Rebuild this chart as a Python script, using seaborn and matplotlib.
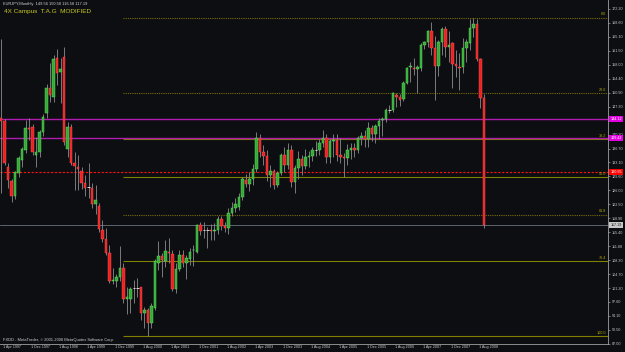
import numpy as np
import pandas as pd
import matplotlib
matplotlib.use("Agg")
import matplotlib.pyplot as plt
import matplotlib.transforms as mtransforms
import seaborn as sns

# ---------------- data (EURJPY monthly, Apr 1997 .. Oct 2008) ----------------
months = pd.period_range("1997-04", "2008-10", freq="M")

opens = [144.5, 143.7, 132.0, 128.4, 124.5, 130.5, 133.8, 136.3, 141.9, 142.2,
         135.0, 135.8, 140.9, 145.7, 152.1, 149.8, 159.7, 156.2, 160.0, 136.6,
         142.2, 133.0, 132.0, 131.0, 128.0, 126.9, 126.7, 122.5, 122.0, 115.9,
         113.7, 110.1, 103.0, 103.0, 104.0, 106.3, 98.4, 98.4, 101.2, 101.2,
         101.5, 94.8, 95.6, 92.3, 96.1, 107.6, 109.3, 108.1, 110.4, 109.9,
         101.0, 106.0, 109.6, 107.6, 108.5, 110.8, 110.4, 117.2, 115.9, 115.9,
         116.0, 115.8, 116.0, 118.8, 117.0, 116.5, 120.3, 121.6, 121.8, 124.4,
         128.6, 127.7, 128.9, 131.4, 139.4, 135.9, 134.8, 130.0, 131.0, 127.3,
         130.4, 135.0, 132.5, 136.3, 128.3, 131.8, 134.0, 132.2, 134.5, 134.8,
         136.2, 136.2, 138.0, 139.5, 134.5, 138.5, 138.8, 135.0, 134.6, 134.2,
         136.2, 136.8, 136.3, 139.5, 139.8, 139.2, 142.0, 140.5, 142.5, 143.9,
         144.2, 146.5, 146.5, 150.3, 149.9, 149.3, 153.4, 157.5, 157.3, 156.9,
         157.2, 163.0, 163.8, 166.6, 162.3, 157.7, 163.8, 167.1, 162.5, 163.5,
         158.2, 157.4, 157.4, 162.3, 163.5, 167.4, 168.4, 159.5, 149.56]

highs = [164.5, 144.3, 133.0, 129.0, 131.0, 134.8, 137.2, 144.0, 144.5, 143.0,
         139.6, 141.5, 145.5, 153.1, 158.5, 160.5, 162.0, 159.7, 162.5, 143.5,
         143.0, 135.8, 135.0, 132.0, 130.0, 133.0, 128.0, 127.5, 122.8, 118.5,
         116.5, 112.1, 106.3, 104.8, 112.0, 107.5, 101.5, 101.5, 103.2, 103.8,
         101.5, 96.4, 96.0, 97.5, 108.5, 113.2, 110.1, 113.4, 113.9, 111.0,
         107.6, 111.0, 110.9, 109.5, 111.5, 112.1, 117.5, 118.0, 118.0, 116.7,
         117.5, 117.7, 119.5, 119.5, 118.0, 121.6, 123.0, 124.0, 125.5, 129.5,
         130.2, 130.8, 132.8, 140.9, 140.5, 137.5, 136.2, 132.6, 131.5, 131.0,
         135.5, 137.0, 138.0, 137.5, 132.5, 136.0, 135.0, 136.5, 136.0, 137.0,
         138.6, 139.0, 141.5, 140.5, 139.0, 140.5, 140.5, 139.5, 135.5, 137.8,
         138.0, 138.0, 140.0, 141.0, 141.5, 143.5, 142.8, 143.0, 144.5, 144.8,
         147.0, 147.8, 151.0, 150.7, 150.5, 153.8, 157.5, 158.8, 159.7, 158.0,
         163.5, 164.0, 166.9, 168.9, 165.3, 164.2, 167.7, 168.0, 166.7, 163.9,
         161.8, 160.9, 164.9, 164.5, 169.6, 169.96, 169.6, 159.7, 150.58]

lows = [125.5, 132.5, 126.7, 123.0, 123.8, 129.5, 132.0, 135.5, 138.9, 135.0,
        132.0, 134.5, 139.8, 144.5, 148.5, 148.5, 152.9, 148.3, 137.5, 134.5,
        132.5, 126.1, 126.1, 126.5, 124.5, 124.0, 121.5, 120.0, 115.5, 113.0,
        109.5, 102.5, 102.2, 101.5, 103.0, 97.5, 94.5, 94.8, 97.5, 98.9,
        93.0, 91.0, 88.97, 91.0, 95.5, 105.8, 104.0, 106.6, 107.6, 100.5,
        100.0, 105.5, 106.6, 103.5, 107.0, 106.8, 110.0, 114.8, 113.9, 111.4,
        113.5, 113.4, 115.0, 116.0, 115.5, 115.0, 119.5, 120.5, 121.0, 123.5,
        126.9, 126.0, 127.5, 130.8, 134.5, 132.5, 128.5, 126.9, 126.5, 126.8,
        129.9, 130.8, 131.5, 127.0, 125.5, 129.0, 129.9, 131.5, 132.0, 133.5,
        134.8, 135.0, 137.0, 133.0, 133.0, 134.5, 133.5, 133.0, 129.5, 132.5,
        134.0, 134.5, 135.5, 137.5, 137.0, 137.0, 138.5, 138.0, 139.0, 140.0,
        143.5, 145.7, 146.0, 147.3, 147.5, 148.8, 153.0, 153.7, 155.4, 150.7,
        156.5, 162.0, 162.5, 160.5, 149.0, 155.1, 160.5, 160.0, 158.8, 152.0,
        155.0, 151.6, 155.8, 158.8, 161.8, 165.2, 159.0, 147.0, 116.58]

closes = [143.6, 133.0, 128.7, 124.5, 130.7, 134.3, 136.6, 141.9, 141.7, 135.8,
          135.8, 140.9, 144.7, 152.1, 150.3, 159.5, 155.9, 156.9, 138.4, 142.2,
          133.0, 132.2, 131.5, 128.0, 126.7, 126.8, 122.5, 123.5, 116.2, 113.7,
          110.1, 103.0, 103.3, 104.0, 106.3, 98.4, 99.0, 101.0, 101.2, 101.3,
          94.8, 95.6, 92.3, 96.6, 108.1, 109.3, 108.3, 110.6, 110.1, 100.9,
          106.0, 109.6, 107.6, 108.9, 110.4, 111.0, 117.2, 115.7, 115.9, 116.0,
          115.6, 116.0, 118.8, 117.0, 116.5, 120.3, 121.6, 122.5, 124.4, 128.9,
          127.7, 128.9, 131.4, 139.4, 135.9, 134.8, 130.0, 131.0, 127.3, 130.4,
          135.0, 132.5, 136.3, 128.3, 131.8, 134.0, 132.2, 134.5, 134.8, 136.2,
          136.2, 138.0, 139.5, 134.5, 138.5, 138.8, 135.0, 134.6, 134.2, 136.2,
          136.8, 136.3, 139.5, 139.8, 139.2, 142.0, 140.5, 142.5, 143.7, 144.3,
          146.5, 146.5, 150.8, 149.7, 149.0, 153.4, 157.2, 157.7, 156.9, 157.5,
          163.0, 163.8, 166.6, 162.3, 157.7, 163.8, 167.1, 162.5, 163.1, 158.2,
          157.7, 157.2, 162.3, 163.8, 167.4, 168.4, 159.5, 149.6, 117.19]

ytick_values = [87.00 + 3.55 * k for k in range(25)]
ytick_labels = ["87.00", "90.50", "94.10", "97.60", "101.20", "104.70", "108.30",
                "111.80", "115.40", "118.90", "122.50", "126.00", "129.60",
                "133.10", "136.70", "140.20", "", "147.30", "150.90",
                "154.40", "158.00", "161.50", "165.10", "168.60", "172.20"]

xtick_labels = ["1 Apr 1997", "1 Dec 1997", "1 Aug 1998", "1 Apr 1999", "1 Dec 1999",
                "1 Aug 2000", "1 Apr 2001", "1 Dec 2001", "1 Aug 2002", "1 Apr 2003",
                "1 Dec 2003", "1 Aug 2004", "1 Apr 2005", "1 Dec 2005", "1 Aug 2006",
                "1 Apr 2007", "1 Dec 2007", "1 Aug 2008"]

fib_high = 169.96
fib_low = 88.97
fib_ratios = [0.0, 23.6, 38.2, 50.0, 61.8, 76.4, 100.0]
fib_names = ["0.0", "23.6", "38.2", "50.0", "61.8", "76.4", "100.0"]

magenta_levels = [144.12, 139.42]
magenta_labels = ["144.12", "139.42"]
red_level = 130.65
red_label = "130.65"
bid = 117.19
bid_label = "117.19"

header = "EURJPY,Monthly  149.56 150.58 116.58 117.19"
subtitle = "4X Campus  T.A.G  MODIFIED"
footer = "FXDD - MetaTrader, \u00a9 2001-2008 MetaQuotes Software Corp."

# ---------------- style ----------------
BG = "#0c0e12"
sns.set_theme(style="dark", rc={"axes.facecolor": BG, "figure.facecolor": BG})
plt.rcParams["font.family"] = ["Liberation Sans", "DejaVu Sans"]

df = pd.DataFrame({"month": months.astype(str), "open": opens, "high": highs,
                   "low": lows, "close": closes})
df["x"] = np.arange(len(df))

fig = plt.figure(figsize=(6.25, 3.52), dpi=100)
ax = fig.add_axes([0, 8 / 352, 608 / 625, 344 / 352])
ax.set_facecolor(BG)

# horizontal objects (behind candles)
fib_range = fib_high - fib_low
for r, name in zip(fib_ratios, fib_names):
    lvl = fib_high - r / 100.0 * fib_range
    dotted = name in ("0.0", "23.6", "61.8")
    col = "#7a6d00" if dotted else "#7f7f00"
    ax.hlines(lvl, 34.9, 175, colors=col, linewidth=0.8,
              linestyles=(0, (1, 1)) if dotted else "solid", zorder=1)
    ax.text(172.8, lvl + 0.35, name, color="#b4a800", fontsize=2.7,
            ha="right", va="bottom", zorder=5)

for lvl in magenta_levels:
    ax.axhline(lvl, color="#b01cb0", linewidth=1.0, zorder=1)
ax.axhline(red_level, color="#ff1010", linewidth=0.8, linestyle=(0, (2, 1.5)), zorder=1)
ax.axhline(bid, color="#5d646e", linewidth=0.7, zorder=1)

# candles
up = df[df.close > df.open + 0.15]
dn = df[df.close < df.open - 0.15]
dj = df[(df.close - df.open).abs() <= 0.15]
ax.vlines(df.x, df.low, df.high, colors="#8c8c8c", linewidth=0.6, zorder=2)
ax.bar(up.x, up.close - up.open, bottom=up.open, width=0.62,
       color="#35a835", edgecolor="#66e866", linewidth=0.3, zorder=3)
ax.bar(dn.x, dn.open - dn.close, bottom=dn.close, width=0.62,
       color="#ee2020", edgecolor="#ff5a5a", linewidth=0.3, zorder=3)
ax.hlines(dj.close, dj.x - 0.35, dj.x + 0.35, colors="#d8d8d8", linewidth=0.7, zorder=3)

# axes
ax.set_xlim(-0.286, 173.43)
ax.set_ylim(86.96, 174.49)
ax.grid(False)
for s in ("top", "left"):
    ax.spines[s].set_visible(False)
for s in ("right", "bottom"):
    ax.spines[s].set_visible(True)
    ax.spines[s].set_color("#a0a0a0")
    ax.spines[s].set_linewidth(0.6)

ax.yaxis.tick_right()
ax.set_yticks(ytick_values)
ax.set_yticklabels(ytick_labels)
ax.tick_params(axis="y", colors="#a0a0a0", labelcolor="#c8c8c8", labelsize=2.7,
               length=1.5, width=0.5, pad=1.2, direction="out")
ax.set_xticks(np.arange(0, 8 * len(xtick_labels), 8))
ax.set_xticklabels(xtick_labels, ha="left")
ax.tick_params(axis="x", colors="#a0a0a0", labelcolor="#c8c8c8", labelsize=2.7,
               length=4, width=0.5, pad=-3.6, direction="out")
offset = mtransforms.ScaledTranslation(2.0 / 100, 0, fig.dpi_scale_trans)
for lab in ax.get_xticklabels():
    lab.set_transform(lab.get_transform() + offset)

# price boxes at right
tr = mtransforms.blended_transform_factory(ax.transAxes, ax.transData)
for lvl, lab in zip(magenta_levels, magenta_labels):
    ax.text(1.004, lvl, lab, transform=tr, fontsize=2.7, color="#ffffff",
            ha="left", va="center", zorder=6, clip_on=False,
            bbox=dict(boxstyle="square,pad=0.25", facecolor="#e000e0", edgecolor="none"))
ax.text(1.004, red_level, red_label, transform=tr, fontsize=2.7, color="#ffffff",
        ha="left", va="center", zorder=6, clip_on=False,
        bbox=dict(boxstyle="square,pad=0.25", facecolor="#ff0000", edgecolor="none"))
ax.text(1.004, bid, bid_label, transform=tr, fontsize=2.7, color="#202020",
        ha="left", va="center", zorder=6, clip_on=False,
        bbox=dict(boxstyle="square,pad=0.25", facecolor="#c8c8c8", edgecolor="none"))

# texts
fig.text(3 / 625, 1 - 4 / 352, header, fontsize=2.9, color="#d0d0d0", ha="left", va="center")
fig.text(4 / 625, 1 - 12 / 352, subtitle, fontsize=4.6, color="#c8c81e", ha="left", va="center")
fig.text(3 / 625, 1 - 340 / 352, footer, fontsize=2.9, color="#d0d0d0", ha="left", va="center")

fig.savefig("out.png", dpi=100, facecolor=BG)
